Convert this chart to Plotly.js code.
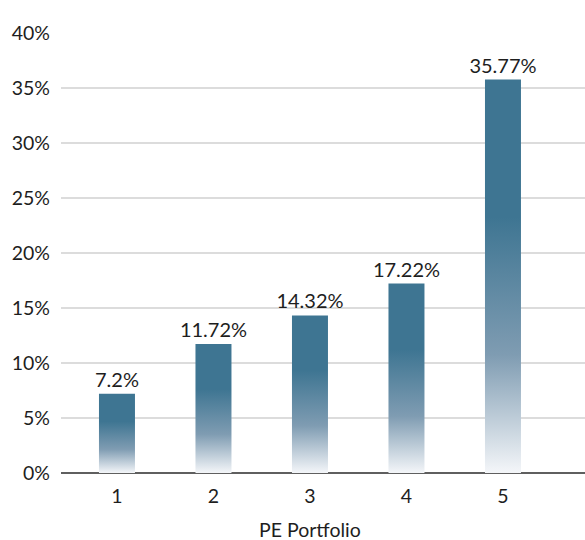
<!DOCTYPE html>
<html>
<head>
<meta charset="utf-8">
<script src="https://cdn.plot.ly/plotly-3.0.1.min.js"></script>
<style>
  html, body { margin: 0; padding: 0; background: #ffffff; }
  #chart { width: 585px; height: 540px; }
</style>
</head>
<body>
<div id="chart"></div>
<script>
// PE portfolio returns
const portfolios = ['1', '2', '3', '4', '5'];
const returns = [7.2, 11.72, 14.32, 17.22, 35.77];
const yTicks = [0, 5, 10, 15, 20, 25, 30, 35, 40];

const barColor = '#3e7592';
const fontFamily = 'Lato, "Open Sans", sans-serif';
const textColor = '#1e1e1e';

const trace = {
  type: 'bar',
  x: portfolios,
  y: returns,
  width: 0.373,
  marker: { color: barColor, line: { width: 0 } },
  text: returns.map(v => v + '%'),
  textposition: 'outside',
  textfont: { family: fontFamily, size: 20, color: textColor },
  constraintext: 'none',
  cliponaxis: false,
  hoverinfo: 'skip'
};

const layout = {
  width: 585,
  height: 540,
  margin: { l: 61, r: 0, t: 33, b: 67 },
  paper_bgcolor: '#ffffff',
  plot_bgcolor: '#ffffff',
  font: { family: fontFamily, size: 19.5, color: textColor },
  showlegend: false,
  bargap: 0.6,
  xaxis: {
    type: 'category',
    range: [-0.58, 4.85],
    showgrid: false,
    showline: false,
    zeroline: false,
    ticks: '',
    ticklabelstandoff: 9,
    tickfont: { family: fontFamily, size: 19.5, color: textColor },
    fixedrange: true
  },
  yaxis: {
    range: [0, 40],
    tickvals: yTicks,
    ticktext: yTicks.map(v => v + '%'),
    showgrid: true,
    gridcolor: '#dcdcdc',
    gridwidth: 2,
    zeroline: true,
    zerolinecolor: '#5f5f5f',
    zerolinewidth: 2,
    showline: false,
    ticks: '',
    ticklabelstandoff: 10,
    tickfont: { family: fontFamily, size: 19.5, color: textColor },
    fixedrange: true
  },
  annotations: [{
    text: 'PE Portfolio',
    x: 2,
    xref: 'x',
    y: -0.128,
    yref: 'paper',
    yanchor: 'middle',
    showarrow: false,
    font: { family: fontFamily, size: 19.5, color: textColor }
  }]
};

Plotly.newPlot('chart', [trace], layout, { displayModeBar: false, staticPlot: true }).then(gd => {
  // vertical fade from the bar colour at the top to near-white at the base
  const svg = gd.querySelector('.main-svg');
  const ns = 'http://www.w3.org/2000/svg';
  let defs = svg.querySelector('defs');
  if (!defs) { defs = document.createElementNS(ns, 'defs'); svg.insertBefore(defs, svg.firstChild); }
  const grad = document.createElementNS(ns, 'linearGradient');
  grad.setAttribute('id', 'barFade');
  grad.setAttribute('x1', '0'); grad.setAttribute('y1', '0');
  grad.setAttribute('x2', '0'); grad.setAttribute('y2', '1');
  [[0, barColor], [0.35, barColor], [0.7, '#7f9cb2'], [1, '#f4f6f9']].forEach(([o, c]) => {
    const s = document.createElementNS(ns, 'stop');
    s.setAttribute('offset', o);
    s.setAttribute('stop-color', c);
    grad.appendChild(s);
  });
  defs.appendChild(grad);
  gd.querySelectorAll('.bars .point path').forEach(p => {
    p.style.fill = 'url(#barFade)';
    p.style.fillOpacity = 1;
  });
});
</script>
</body>
</html>
